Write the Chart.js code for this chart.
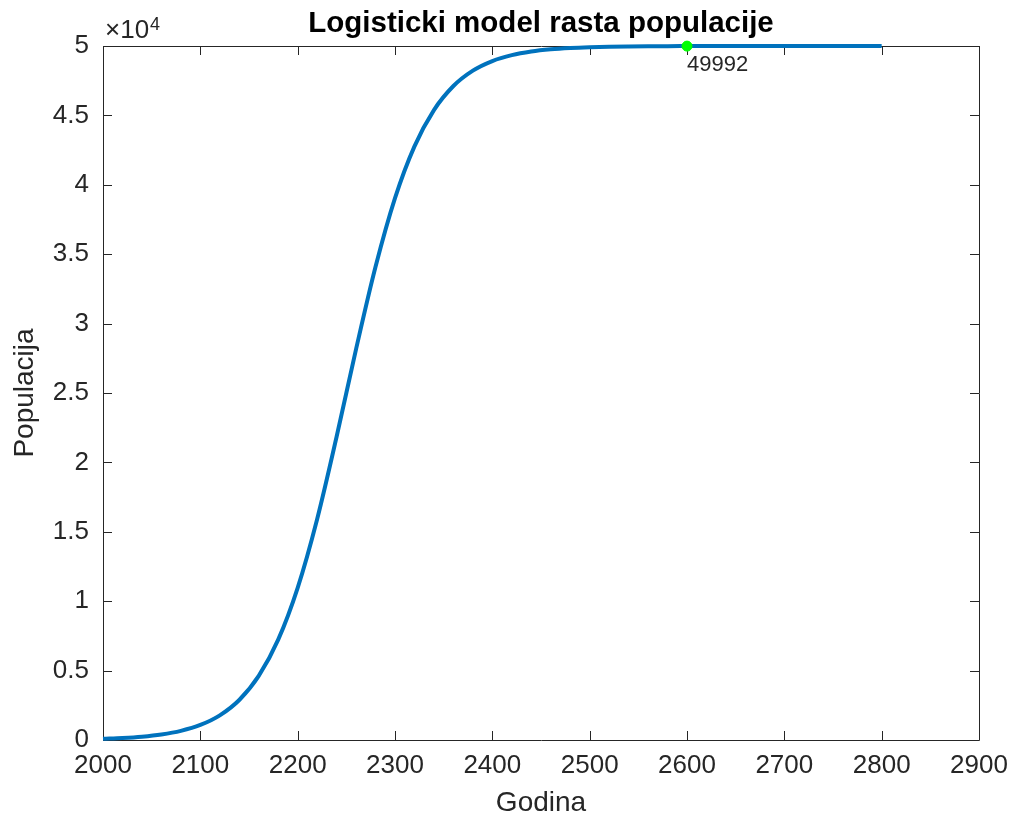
<!DOCTYPE html>
<html>
<head>
<meta charset="utf-8">
<script src="https://cdn.jsdelivr.net/npm/chart.js@4.4.1/dist/chart.umd.min.js"></script>
<style>
  html, body { margin: 0; padding: 0; background: #fff; }
  #wrap { width: 1018px; height: 820px; }
</style>
</head>
<body>
<div id="wrap"><canvas id="chart" width="1018" height="820"></canvas></div>
<script>
// years on the x axis, population
const years = [2000, 2020, 2040, 2060, 2080, 2100, 2120, 2140, 2160, 2180,
  2200, 2220, 2240, 2260, 2280, 2300, 2320, 2340, 2360, 2380,
  2400, 2420, 2440, 2460, 2480, 2500, 2520, 2540, 2560, 2580,
  2600, 2620, 2640, 2660, 2680, 2700, 2720, 2740, 2760, 2780, 2800];
const population = [87, 145, 240, 398, 658, 1083, 1775, 2882, 4615, 7228,
  10963, 15909, 21844, 28158, 34091, 39038, 42772, 45385, 47117, 48225,
  48917, 49342, 49602, 49760, 49855, 49913, 49948, 49968, 49981, 49989,
  49992, 49995, 49997, 49998, 49999, 49999, 50000, 50000, 50000, 50000, 50000];

// marked point
const markYear = 2600;
const markValue = 49992;

const xTicks = [2000, 2100, 2200, 2300, 2400, 2500, 2600, 2700, 2800, 2900];
const yTicks = [0, 5000, 10000, 15000, 20000, 25000, 30000, 35000, 40000, 45000, 50000];

const titleText = 'Logisticki model rasta populacije';

const FONT = '"Liberation Sans", Arial, Helvetica, sans-serif';
const AXIS = '#262626';

// matlab style box with inward ticks, title over the axes, exponent, data tip text
const matlabBox = {
  id: 'matlabBox',
  beforeDatasetsDraw(chart) {
    const {ctx, chartArea: a, scales: {x, y}} = chart;
    const len = 9;
    ctx.save();
    ctx.strokeStyle = AXIS;
    ctx.lineWidth = 1;
    ctx.beginPath();
    ctx.rect(a.left + 0.5, a.top + 0.5, a.right - a.left, a.bottom - a.top);
    xTicks.forEach(v => {
      const px = Math.round(x.getPixelForValue(v)) + 0.5;
      ctx.moveTo(px, a.bottom); ctx.lineTo(px, a.bottom - len);
      ctx.moveTo(px, a.top); ctx.lineTo(px, a.top + len);
    });
    yTicks.forEach(v => {
      const py = Math.round(y.getPixelForValue(v)) + 0.5;
      ctx.moveTo(a.left, py); ctx.lineTo(a.left + len, py);
      ctx.moveTo(a.right, py); ctx.lineTo(a.right - len, py);
    });
    ctx.stroke();
    ctx.restore();
  },
  afterDraw(chart) {
    const {ctx, chartArea: a, scales: {x, y}} = chart;
    ctx.save();
    // title, centred on the axes box like matlab does
    ctx.fillStyle = '#000';
    ctx.textAlign = 'center';
    ctx.textBaseline = 'middle';
    ctx.font = 'bold 29.5px ' + FONT;
    ctx.fillText(titleText, (a.left + a.right) / 2, 24);

    ctx.fillStyle = AXIS;
    ctx.textAlign = 'left';
    ctx.textBaseline = 'alphabetic';
    ctx.font = '26px ' + FONT;
    ctx.fillText('\u00d710', a.left + 2, 38);
    const w = ctx.measureText('\u00d710').width;
    ctx.font = '18px ' + FONT;
    ctx.fillText('4', a.left + 2 + w + 1, 30);

    const px = x.getPixelForValue(markYear);
    const py = y.getPixelForValue(markValue);
    ctx.font = '22px ' + FONT;
    ctx.textBaseline = 'top';
    ctx.fillText(String(markValue), px, py + 8);
    ctx.restore();
  }
};

new Chart(document.getElementById('chart'), {
  type: 'line',
  data: {
    datasets: [{
      label: 'populacija',
      data: years.map((yr, i) => ({x: yr, y: population[i]})),
      borderColor: '#0072BD',
      backgroundColor: '#0072BD',
      borderWidth: 4,
      pointRadius: 0,
      fill: false,
      cubicInterpolationMode: 'monotone',
      clip: false,
      order: 2
    }, {
      label: 'oznaka',
      data: [{x: markYear, y: markValue}],
      showLine: false,
      pointRadius: 5,
      pointBackgroundColor: '#00FF00',
      pointBorderColor: '#00FF00',
      clip: false,
      order: 1
    }]
  },
  options: {
    responsive: false,
    animation: false,
    devicePixelRatio: 1,
    layout: { padding: { left: 0, right: 39, top: 46, bottom: 0 } },
    plugins: {
      legend: { display: false },
      tooltip: { enabled: false },
      title: { display: false }
    },
    scales: {
      x: {
        type: 'linear',
        min: 2000,
        max: 2900,
        afterBuildTicks(scale) { scale.ticks = xTicks.map(v => ({value: v})); },
        afterFit(scale) { scale.height = 80; },
        grid: { display: false, drawTicks: false },
        border: { display: false },
        ticks: {
          color: AXIS,
          padding: 10,
          maxRotation: 0,
          font: { family: FONT, size: 26 },
          callback: v => String(v)
        },
        title: {
          display: true,
          text: 'Godina',
          color: AXIS,
          font: { family: FONT, size: 28 },
          padding: { top: 2, bottom: 0 }
        }
      },
      y: {
        type: 'linear',
        min: 0,
        max: 50000,
        afterBuildTicks(scale) { scale.ticks = yTicks.map(v => ({value: v})); },
        afterFit(scale) { scale.width = 103; },
        grid: { display: false, drawTicks: false },
        border: { display: false },
        ticks: {
          color: AXIS,
          padding: 14,
          font: { family: FONT, size: 26 },
          callback: v => String(v / 10000)
        },
        title: {
          display: true,
          text: 'Populacija',
          color: AXIS,
          font: { family: FONT, size: 28 },
          padding: { top: 8, bottom: 0 }
        }
      }
    }
  },
  plugins: [matlabBox]
});
</script>
</body>
</html>
